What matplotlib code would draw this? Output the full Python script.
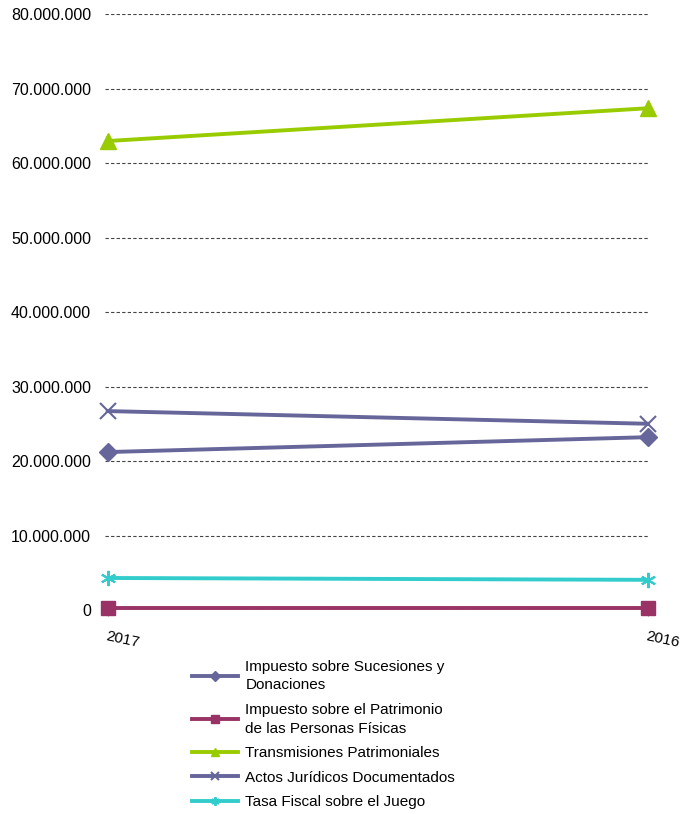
import matplotlib
matplotlib.use("Agg")
import matplotlib.pyplot as plt
from matplotlib.ticker import FuncFormatter

plt.rcParams['font.family'] = ['Liberation Sans', 'DejaVu Sans']

years = ["2017", "2016"]
sucesiones = [21200000, 23200000]
patrimonio = [300000, 300000]
transmisiones = [62950000, 67350000]
actos = [26700000, 25000000]
juego = [4300000, 4050000]

labels = ["Impuesto sobre Sucesiones y\nDonaciones",
          "Impuesto sobre el Patrimonio\nde las Personas Físicas",
          "Transmisiones Patrimoniales",
          "Actos Jurídicos Documentados",
          "Tasa Fiscal sobre el Juego"]
yticks = [0, 10000000, 20000000, 30000000, 40000000, 50000000, 60000000, 70000000, 80000000]

fig = plt.figure(figsize=(6.84, 8.14), dpi=100)
ax = fig.add_axes([0.1535, 0.2506, 0.7935, 0.7322])

x = list(range(len(years)))
kw = dict(lw=2.8, clip_on=False, zorder=3)
ax.plot(x, sucesiones, color="#66669a", marker="D", ms=9, label=labels[0], **kw)
ax.plot(x, patrimonio, color="#993366", marker="s", ms=10, label=labels[1], **kw)
ax.plot(x, transmisiones, color="#99cc00", marker="^", ms=11, label=labels[2], **kw)
ax.plot(x, actos, color="#66669a", marker="x", ms=11, mew=1.5, label=labels[3], **kw)
ax.plot(x, juego, color="#33cccc", marker=(6, 2, 0), ms=11, mew=1.5, label=labels[4], **kw)

ax.set_xlim(-0.005, 1.0)
ax.set_ylim(0, 80000000)
ax.set_yticks(yticks)
ax.yaxis.set_major_formatter(FuncFormatter(lambda v, p: f"{int(v):,}".replace(",", ".")))
ax.set_xticks(x)
ax.set_xticklabels(years, rotation=-12, ha="left", rotation_mode="anchor", fontsize=11)
ax.tick_params(axis="y", length=0, labelsize=11.5, pad=10)
ax.tick_params(axis="x", length=4, color="#888888", pad=10)
ax.grid(axis="y", color="#444444", ls=(0, (3, 2)), lw=0.8)
ax.set_axisbelow(True)
for s in ax.spines.values():
    s.set_visible(False)

leg = ax.legend(loc="upper left", bbox_to_anchor=(0.135, -0.06), frameon=False,
                fontsize=11, handlelength=3.0, labelspacing=0.68, handletextpad=0.5,
                markerscale=0.55)
for t in leg.get_texts():
    t.set_linespacing(1.45)

fig.savefig("out.png", dpi=100)
